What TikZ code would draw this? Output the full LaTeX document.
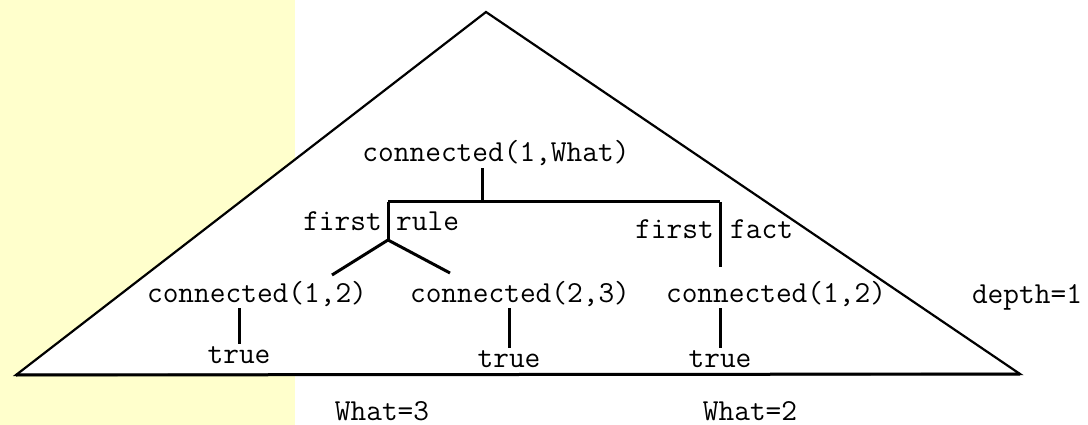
\documentclass[tikz,border=0pt]{standalone}
\usepackage{fontspec}
\usepackage{tikz}
\usetikzlibrary{positioning,calc}
\definecolor{paper}{HTML}{FFFFCC}

\begin{document}
\begin{tikzpicture}[x=1pt,y=-1pt,
    lbl/.style={font=\ttfamily\fontsize{30.5}{34}\selectfont, inner sep=2pt},
    tag/.style={lbl, inner sep=0pt},
    tree/.style={line width=3pt},
    space/.style={line width=2.2pt, line join=miter, fill=white}]
    \useasboundingbox (0,0) rectangle (1088,425);
    \fill[paper] (0,0) rectangle (295,425);
    \coordinate (Apex) at (486,12);
    \coordinate (LeftC) at (16,375);
    \coordinate (RightC) at (1020,374);
    \draw[space] (LeftC) -- (Apex) -- (RightC) -- cycle;
    \draw[line width=3pt] (LeftC) -- (RightC);
    \node[lbl, anchor=base] (Goal) at (496,162) {connected(1,What)};
    \coordinate (Split) at (482,202);
    \coordinate (RuleJ) at (388,202);
    \coordinate (FactJ) at (720,202);
    \coordinate (Fork) at (388,240);
    \coordinate (ForkL) at (332,275);
    \coordinate (ForkR) at (450,273);
    \coordinate (FactE) at (720,267);
    \node[tag, anchor=base east] (FirstR) at (382,230) {first};
    \node[tag, anchor=base west] (Rule) at (396,230) {rule};
    \node[tag, anchor=base east] (FirstF) at (714,238) {first};
    \node[tag, anchor=base west] (Fact) at (730,238) {fact};
    \node[lbl, anchor=base] (ConA) at (257,302) {connected(1,2)};
    \node[lbl, anchor=base] (ConB) at (520,302) {connected(2,3)};
    \node[lbl, anchor=base] (ConC) at (776,302) {connected(1,2)};
    \node[lbl, anchor=base] (TrueA) at (239,363) {true};
    \node[lbl, anchor=base] (TrueB) at (509,367) {true};
    \node[lbl, anchor=base] (TrueC) at (720,367) {true};
    \node[lbl, anchor=base] (Depth) at (1027,303) {depth=1};
    \node[lbl, anchor=base] (WhatA) at (382,420) {What=3};
    \node[lbl, anchor=base] (WhatB) at (750,420) {What=2};
    \draw[tree] (Goal.south -| Split) -- (Split);
    \draw[tree] (RuleJ) -- (FactJ);
    \draw[tree] (RuleJ) -- (Fork);
    \draw[tree] (ForkL) -- (Fork) -- (ForkR);
    \draw[tree] (FactJ) -- (FactE);
    \draw[tree] (ConA.south -| TrueA) -- (TrueA.north);
    \draw[tree] (ConB.south -| TrueB) -- (TrueB.north);
    \draw[tree] (ConC.south -| TrueC) -- (TrueC.north);
\end{tikzpicture}
\end{document}
